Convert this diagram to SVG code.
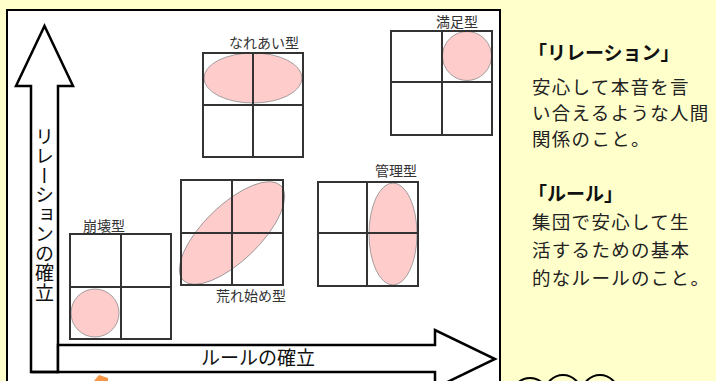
<svg xmlns="http://www.w3.org/2000/svg" width="716" height="381" viewBox="0 0 716 381">
<defs>
<style>
.grid{fill:none;stroke:#333;stroke-width:2}
.blob{fill:#FFCCCC;stroke:#8c8c8c;stroke-width:0.8}
.lbl{font-family:"Noto Sans CJK JP","Noto Sans",sans-serif;font-size:14px;fill:#333;text-anchor:middle}
.arr{fill:#fff;stroke:#000;stroke-width:2.5;stroke-linejoin:miter}
.side{font-family:"Noto Sans CJK JP","Noto Sans",sans-serif;font-size:18.5px;letter-spacing:1.3px;fill:#222}
.head{font-family:"Noto Sans CJK JP","Noto Sans",sans-serif;font-size:19px;font-weight:bold;fill:#111}
.big{font-family:"Noto Sans CJK JP","Noto Sans",sans-serif;font-size:19px;fill:#111}
</style>
</defs>
<rect x="0" y="0" width="716" height="381" fill="#FFFFCC"/>
<rect x="7" y="10" width="493" height="390" fill="#fff" stroke="#000" stroke-width="2"/>

<g id="connectors">
<polygon class="arr" points="31,372 31,86 16,86 44.5,26 73,86 58,86 58,372"/>
<polygon class="arr" points="58,345 435,345 435,330 495,359 435,388 435,372 58,372"/>
<line x1="31" y1="372" x2="58" y2="372" stroke="#000" stroke-width="2.5"/>
<text class="big" x="44.5" y="127" style="writing-mode:vertical-rl;text-orientation:upright" letter-spacing="0.5">リレーションの確立</text>
<text class="big" x="258" y="365" text-anchor="middle">ルールの確立</text>
</g>

<g id="houkai">
<circle class="blob" cx="95" cy="313" r="24"/>
<rect class="grid" x="70" y="234" width="101" height="105"/>
<line class="grid" x1="121" y1="234" x2="121" y2="339"/>
<line class="grid" x1="70" y1="287" x2="171" y2="287"/>
<text class="lbl" x="104" y="231">崩壊型</text>
</g>

<g id="nareai">
<ellipse class="blob" cx="253" cy="78" rx="49" ry="25"/>
<rect class="grid" x="203" y="53" width="100" height="104"/>
<line class="grid" x1="253" y1="53" x2="253" y2="157"/>
<line class="grid" x1="203" y1="105" x2="303" y2="105"/>
<text class="lbl" x="264" y="48">なれあい型</text>
</g>

<g id="manzoku">
<circle class="blob" cx="467" cy="56" r="24.5"/>
<rect class="grid" x="391" y="31" width="101" height="104"/>
<line class="grid" x1="442" y1="31" x2="442" y2="135"/>
<line class="grid" x1="391" y1="82" x2="492" y2="82"/>
<text class="lbl" x="457" y="27">満足型</text>
</g>

<g id="kanri">
<ellipse class="blob" cx="393" cy="234" rx="24" ry="51"/>
<rect class="grid" x="318" y="182" width="100" height="104"/>
<line class="grid" x1="367" y1="182" x2="367" y2="286"/>
<line class="grid" x1="318" y1="233" x2="418" y2="233"/>
<text class="lbl" x="396" y="176">管理型</text>
</g>

<g id="arehajime">
<ellipse class="blob" cx="232" cy="233" rx="68" ry="28" transform="rotate(-44 232 233)"/>
<rect class="grid" x="181" y="180" width="102" height="105"/>
<line class="grid" x1="232" y1="180" x2="232" y2="285"/>
<line class="grid" x1="181" y1="233" x2="283" y2="233"/>
<text class="lbl" x="251" y="301">荒れ始め型</text>
</g>

<g id="description">
<text class="head" x="528" y="60">「リレーション」</text>
<text class="side" x="532" y="94">安心して本音を言</text>
<text class="side" x="532" y="120">い合えるような人間</text>
<text class="side" x="532" y="146">関係のこと。</text>
<text class="head" x="528" y="201">「ルール」</text>
<text class="side" x="532" y="229">集団で安心して生</text>
<text class="side" x="532" y="257">活するための基本</text>
<text class="side" x="532" y="285">的なルールのこと。</text>
</g>

<g id="bottom">
<polygon points="94,381 99,375 108,378 108,381" fill="#F79646"/>
<circle cx="530" cy="396" r="18" fill="none" stroke="#000" stroke-width="2"/>
<circle cx="563" cy="393" r="18" fill="none" stroke="#000" stroke-width="2"/>
<circle cx="600" cy="393" r="18" fill="none" stroke="#000" stroke-width="2"/>
</g>
</svg>
